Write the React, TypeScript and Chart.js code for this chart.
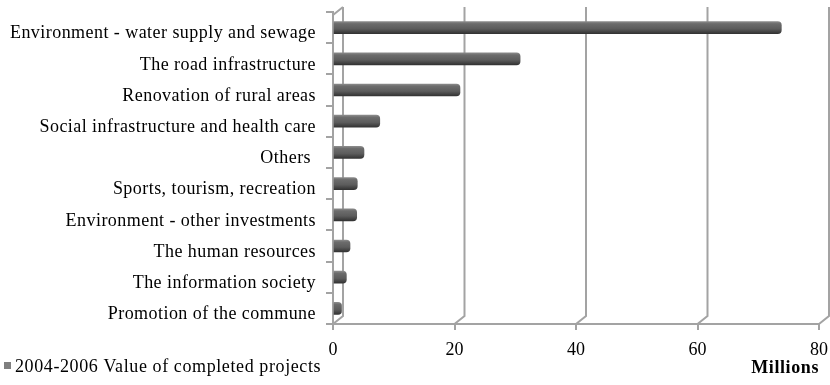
import React, { useEffect, useRef } from 'react';
import { Chart, registerables } from 'chart.js';

Chart.register(...registerables);

const categories = [
  'Environment - water supply and sewage',
  'The road infrastructure',
  'Renovation of rural areas',
  'Social infrastructure and health care',
  'Others ',
  'Sports, tourism, recreation',
  'Environment - other investments',
  'The human resources',
  'The information society',
  'Promotion of the commune',
];
const values = [73.8, 30.8, 20.9, 7.7, 5.1, 4.0, 3.9, 2.8, 2.2, 1.4];
const seriesLabel = '2004-2006 Value of completed projects';
const axisTitle = 'Millions';
const xMin = 0;
const xMax = 80;
const xStep = 20;

const FAMILY = '"Liberation Serif", "Times New Roman", serif';
const GRID = '#a3a3a3';
const DEPTH_X = 10;
const DEPTH_Y = 8;

function withSpacing(scale: any, method: string, spacing: string) {
  const key = '__ls_' + method;
  if (scale[key]) return;
  const orig = scale[method];
  scale[method] = function (...args: any[]) {
    const ctx = this.ctx as any;
    const prev = ctx.letterSpacing;
    ctx.letterSpacing = spacing;
    try {
      orig.apply(this, args);
    } finally {
      ctx.letterSpacing = prev || '0px';
    }
  };
  scale[key] = true;
}

function zeroPadding(s: any) {
  s.paddingLeft = 0;
  s.paddingRight = 0;
  s.paddingTop = 0;
  s.paddingBottom = 0;
}

// back wall gridlines of the pseudo-3D plot
const wallPlugin = {
  id: 'backWall',
  beforeDatasetsDraw(chart: any) {
    const { ctx, chartArea } = chart;
    const xs = chart.scales.x;
    if (!xs || !chartArea) return;
    ctx.save();
    ctx.strokeStyle = GRID;
    ctx.lineWidth = 2;
    const top = chartArea.top - 5;
    const bottom = chartArea.bottom;
    xs.ticks.forEach((t: any) => {
      const fx = xs.getPixelForValue(t.value);
      const bx = fx + DEPTH_X;
      ctx.beginPath();
      ctx.moveTo(bx, top);
      ctx.lineTo(bx, bottom - DEPTH_Y);
      ctx.lineTo(fx, bottom);
      ctx.stroke();
    });
    // top-left corner of the side wall
    const x0 = xs.getPixelForValue(xMin);
    ctx.beginPath();
    ctx.moveTo(x0, chartArea.top + 3);
    ctx.lineTo(x0 + DEPTH_X, top);
    ctx.stroke();
    ctx.restore();
  },
};

const legendPlugin = {
  id: 'bottomLegend',
  afterDraw(chart: any) {
    const ctx = chart.ctx as any;
    const ds = chart.data.datasets[0];
    ctx.save();
    ctx.fillStyle = '#7f7f7f';
    ctx.fillRect(4, 362, 7, 7);
    ctx.font = `18px ${FAMILY}`;
    ctx.letterSpacing = '0.6px';
    ctx.fillStyle = '#000';
    ctx.textBaseline = 'middle';
    ctx.textAlign = 'left';
    ctx.fillText(ds.label, 15, 367);
    ctx.restore();
  },
};

export default function App() {
  const ref = useRef<HTMLCanvasElement | null>(null);

  useEffect(() => {
    if (!ref.current) return;
    const chart = new Chart(ref.current, {
      type: 'bar',
      data: {
        labels: categories,
        datasets: [
          {
            label: seriesLabel,
            data: values,
            backgroundColor: (c: any) => {
              const ch = c.chart;
              const ys = ch.scales && ch.scales.y;
              if (!ys || c.dataIndex == null) return '#5f5f5f';
              const yc = ys.getPixelForValue(c.dataIndex);
              if (!Number.isFinite(yc)) return '#5f5f5f';
              const h = 6;
              const g = ch.ctx.createLinearGradient(0, yc - h, 0, yc + h);
              g.addColorStop(0, '#8a8a8a');
              g.addColorStop(0.18, '#6c6c6c');
              g.addColorStop(0.6, '#5c5c5c');
              g.addColorStop(1, '#333333');
              return g;
            },
            borderWidth: 0,
            borderRadius: 4,
            borderSkipped: 'start',
            barThickness: 12,
          },
        ],
      },
      options: {
        indexAxis: 'y',
        animation: false,
        responsive: false,
        devicePixelRatio: 1,
        layout: { padding: { top: 12, right: 11, left: 0, bottom: 0 } },
        plugins: {
          legend: { display: false },
          tooltip: { enabled: false },
        },
        scales: {
          x: {
            type: 'linear',
            min: xMin,
            max: xMax,
            ticks: {
              stepSize: xStep,
              color: '#000',
              font: { family: FAMILY, size: 18 },
              padding: 9,
            },
            grid: { color: GRID, lineWidth: 2, tickLength: 6, drawTicks: true, drawOnChartArea: false },
            border: { display: true, color: GRID, width: 2 },
            title: {
              display: true,
              text: axisTitle,
              align: 'end',
              color: '#000',
              font: { family: FAMILY, size: 18, weight: 'bold' },
              padding: { top: 0, bottom: 6 },
            },
            afterFit: (s: any) => {
              s.height = 61;
              zeroPadding(s);
              withSpacing(s, 'drawTitle', '0.6px');
            },
          },
          y: {
            type: 'category',
            ticks: {
              color: '#000',
              font: { family: FAMILY, size: 18 },
              padding: 10,
              labelOffset: 6,
              autoSkip: false,
            },
            grid: {
              drawOnChartArea: false,
              drawTicks: true,
              tickLength: 7,
              color: GRID,
              lineWidth: 2,
              offset: true,
            },
            border: { display: true, color: GRID, width: 2 },
            afterFit: (s: any) => {
              s.width = 333;
              zeroPadding(s);
              withSpacing(s, 'drawLabels', '0.45px');
            },
          },
        },
      } as any,
      plugins: [wallPlugin, legendPlugin],
    });
    return () => chart.destroy();
  }, []);

  return (
    <div style={{ position: 'fixed', left: 0, top: 0, width: 830, height: 385, background: '#fff' }}>
      <canvas ref={ref} width={830} height={385} style={{ display: 'block' }} />
    </div>
  );
}
